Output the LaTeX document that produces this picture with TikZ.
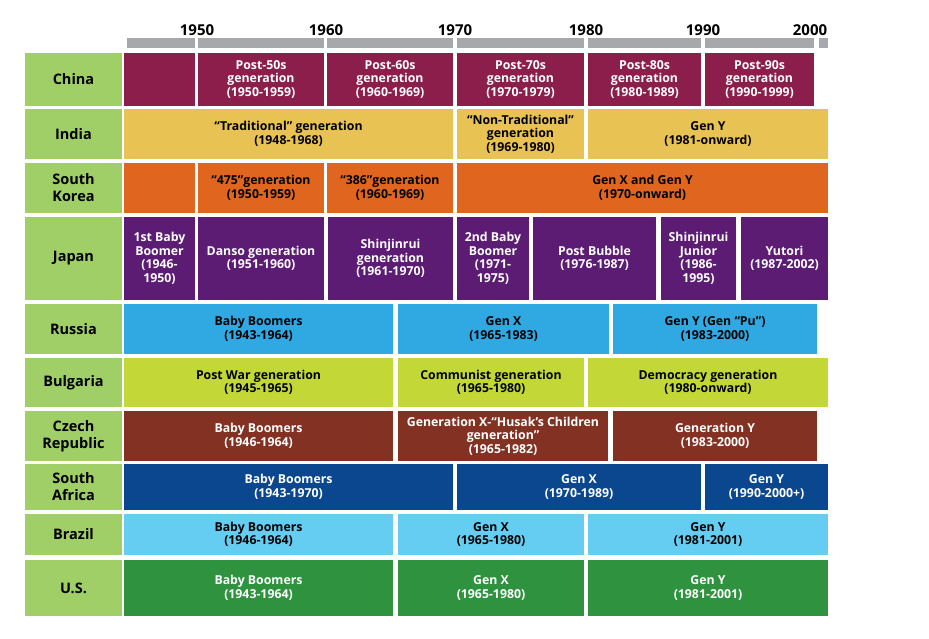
\documentclass[tikz,border=0pt]{standalone}
\usepackage{fontspec}
\setmainfont{Open Sans}
\usepackage{tikz}

\definecolor{labgreen}{HTML}{A0CE67}
\definecolor{bargray}{HTML}{A7A8AB}
\definecolor{chinared}{HTML}{8B1E4B}
\definecolor{indiayel}{HTML}{E8C252}
\definecolor{koreaorg}{HTML}{E0661F}
\definecolor{japanpur}{HTML}{5C1C74}
\definecolor{russiablu}{HTML}{30A9E3}
\definecolor{bulglime}{HTML}{C3D837}
\definecolor{czechbrn}{HTML}{833122}
\definecolor{safnavy}{HTML}{0B478E}
\definecolor{brazblu}{HTML}{66CDF2}
\definecolor{usgreen}{HTML}{2E923F}

% one row: name, country, top, bottom, style, segments
\newcommand\genrow[6]{%
  \node[country,minimum height={(#4-#3)*1pt}] (#1) at (73.5,{(#3+#4)/2}) {#2};
  \foreach \a/\b/\txt [count=\i] in {#6} {
    \node[cell,#5,minimum width={(\b-\a)*1pt},minimum height={(#4-#3)*1pt}] (#1-\i) at ({(\a+\b)/2},{(#3+#4)/2}) {\txt};
  }
}

\begin{document}
\begin{tikzpicture}[x=1pt,y=-1pt,
  cell/.style={rectangle,inner sep=0pt,align=center,font=\bfseries\fontsize{12.3}{13.5}\selectfont},
  country/.style={cell,fill=labgreen,minimum width=97pt,font=\bfseries\fontsize{14.5}{17}\selectfont},
  year/.style={font=\bfseries\fontsize{15}{17}\selectfont,inner sep=0pt}]
\useasboundingbox (0,0) rectangle (929,639);

% time line
\foreach \a/\b in {127/195,198/324,327/453,457/584,588/701,705/814,819/828}
  \fill[bargray] (\a,38) rectangle (\b,48);
\foreach \x/\yr in {197/1950,326/1960,455/1970,586/1980,703/1990,810/2000}
  \node[year] (y\yr) at (\x,30.5) {\yr};

\genrow{china}{China}{53}{106}{fill=chinared,text=white}{124/195/{},
  198/324/{Post-50s\\generation\\(1950-1959)},
  327/453/{Post-60s\\generation\\(1960-1969)},
  457/584/{Post-70s\\generation\\(1970-1979)},
  588/701/{Post-80s\\generation\\(1980-1989)},
  705/814/{Post-90s\\generation\\(1990-1999)}}
\genrow{india}{India}{109}{159}{fill=indiayel}{124/453/{“Traditional” generation\\(1948-1968)},
  457/584/{“Non-Traditional”\\generation\\(1969-1980)},
  588/828/{Gen Y\\(1981-onward)}}
\genrow{korea}{South\\Korea}{163}{213}{fill=koreaorg}{124/195/{},
  198/324/{“475”generation\\(1950-1959)},
  327/453/{“386”generation\\(1960-1969)},
  457/828/{Gen X and Gen Y\\(1970-onward)}}
\genrow{japan}{Japan}{217}{300}{fill=japanpur,text=white}{124/195/{1st Baby\\Boomer\\(1946-\\1950)},
  198/324/{Danso generation\\(1951-1960)},
  328/453/{Shinjinrui\\generation\\(1961-1970)},
  457/529/{2nd Baby\\Boomer\\(1971-\\1975)},
  533/656/{Post Bubble\\(1976-1987)},
  661/736/{Shinjinrui\\Junior\\(1986-\\1995)},
  741/828/{Yutori\\(1987-2002)}}
\genrow{russia}{Russia}{304}{354}{fill=russiablu}{124/393/{Baby Boomers\\(1943-1964)},
  398/609/{Gen X\\(1965-1983)},
  613/817/{Gen Y (Gen “Pu”)\\(1983-2000)}}
\genrow{bulgaria}{Bulgaria}{358}{407}{fill=bulglime}{124/393/{Post War generation\\(1945-1965)},
  398/584/{Communist generation\\(1965-1980)},
  588/828/{Democracy generation\\(1980-onward)}}
\genrow{czech}{Czech\\Republic}{411}{461}{fill=czechbrn,text=white}{124/393/{Baby Boomers\\(1946-1964)},
  398/608/{Generation X-“Husak’s Children\\generation”\\(1965-1982)},
  613/817/{Generation Y\\(1983-2000)}}
\genrow{safrica}{South\\Africa}{464}{510}{fill=safnavy,text=white}{124/453/{Baby Boomers\\(1943-1970)},
  457/701/{Gen X\\(1970-1989)},
  705/828/{Gen Y\\(1990-2000+)}}
\genrow{brazil}{Brazil}{514}{555}{fill=brazblu}{124/393/{Baby Boomers\\(1946-1964)},
  398/584/{Gen X\\(1965-1980)},
  588/828/{Gen Y\\(1981-2001)}}
\genrow{us}{U.S.}{560}{616}{fill=usgreen,text=white}{124/393/{Baby Boomers\\(1943-1964)},
  398/584/{Gen X\\(1965-1980)},
  588/828/{Gen Y\\(1981-2001)}}
\end{tikzpicture}
\end{document}
